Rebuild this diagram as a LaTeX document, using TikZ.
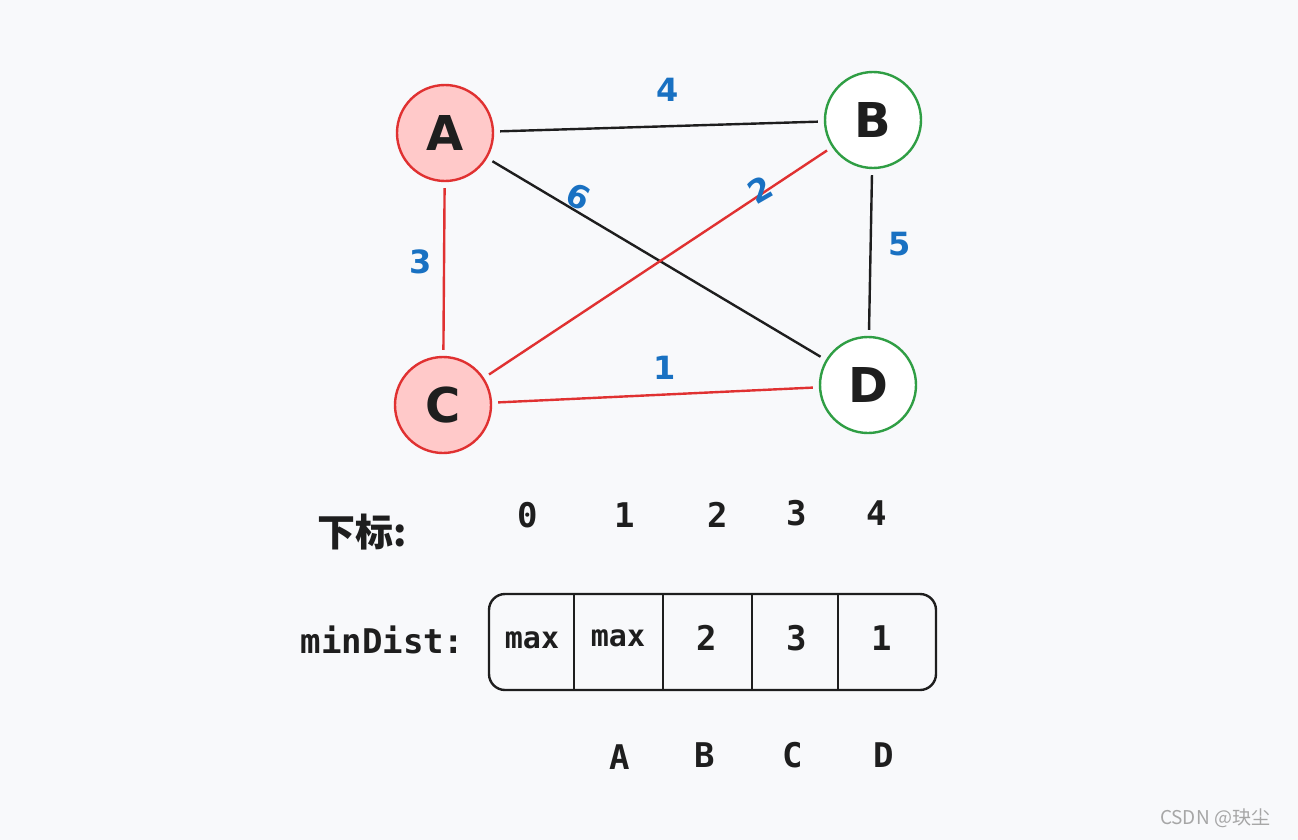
\documentclass[tikz,border=0pt]{standalone}
\usepackage{fontspec}
\setmainfont{DejaVu Sans}
\newfontfamily\monof{DejaVu Sans Mono}
\newfontfamily\cjk{Noto Sans CJK SC}
\definecolor{bg}{HTML}{F8F9FB}
\definecolor{rd}{HTML}{E03131}
\definecolor{rf}{HTML}{FFC9C9}
\definecolor{gr}{HTML}{2F9E44}
\definecolor{bl}{HTML}{1971C2}
\definecolor{ink}{HTML}{1E1E1E}
\begin{document}
\begin{tikzpicture}[x=1pt,y=-1pt,
  vert/.style={circle,minimum size=96pt,inner sep=0pt,line width=2.4pt,font=\bfseries\fontsize{48}{48}\selectfont,text=ink},
  redv/.style={vert,draw=rd,fill=rf},
  grnv/.style={vert,draw=gr,fill=white},
  blk/.style={draw=ink,line width=2.4pt,shorten <=6pt,shorten >=6pt},
  red/.style={draw=rd,line width=2.4pt,shorten <=6pt,shorten >=6pt},
  wt/.style={text=bl,font=\bfseries\fontsize{32}{32}\selectfont},
  lab/.style={text=ink,font=\monof\bfseries\fontsize{34}{34}\selectfont},
  cell/.style={text=ink,font=\monof\bfseries\fontsize{34}{34}\selectfont}]
\fill[bg] (0,0) rectangle (1298,840);
\useasboundingbox (0,0) rectangle (1298,840);
\node[redv] (A) at (445,133) {A};
\node[grnv] (B) at (873,120) {B};
\node[redv] (C) at (443,405) {C};
\node[grnv] (D) at (868,385) {D};
\draw[blk] (A) -- (B);
\draw[blk] (A) -- (D);
\draw[blk] (B) -- (D);
\draw[red] (A) -- (C);
\draw[red] (C) -- (B);
\draw[red] (C) -- (D);
\node[wt] (w4) at (668,90) {4};
\node[wt,rotate=-25] (w6) at (578,197) {6};
\node[wt,rotate=30] (w2) at (760,190) {2};
\node[wt] (w3) at (421,262) {3};
\node[wt] (w5) at (900,244) {5};
\node[wt] (w1) at (665,368) {1};
\node[text=ink,font=\cjk\bfseries\fontsize{38}{38}\selectfont] (xb) at (362,532) {下标:};
\node[lab] (i0) at (528,515) {0};
\node[lab] (i1) at (625,515) {1};
\node[lab] (i2) at (718,515) {2};
\node[lab] (i3) at (797,513) {3};
\node[lab] (i4) at (877,513) {4};
\node[lab,anchor=east] (md) at (468,640) {minDist:};
\draw[ink,line width=2.4pt,rounded corners=16pt] (489,594) rectangle (936,690);
\foreach \x in {574,663,752,838} \draw[ink,line width=2pt] (\x,594) -- (\x,690);
\node[cell,font=\monof\bfseries\fontsize{30}{30}\selectfont] (c0) at (532,640) {max};
\node[cell,font=\monof\bfseries\fontsize{30}{30}\selectfont] (c1) at (618,638) {max};
\node[cell] (c2) at (707,638) {2};
\node[cell] (c3) at (797,638) {3};
\node[cell] (c4) at (882,638) {1};
\node[lab] (lA) at (620,757) {A};
\node[lab] (lB) at (705,755) {B};
\node[lab] (lC) at (793,755) {C};
\node[lab] (lD) at (884,755) {D};
\node[text=gray!70,font=\cjk\fontsize{19}{19}\selectfont] (wm) at (1215,818) {CSDN @玦尘};
\end{tikzpicture}
\end{document}
